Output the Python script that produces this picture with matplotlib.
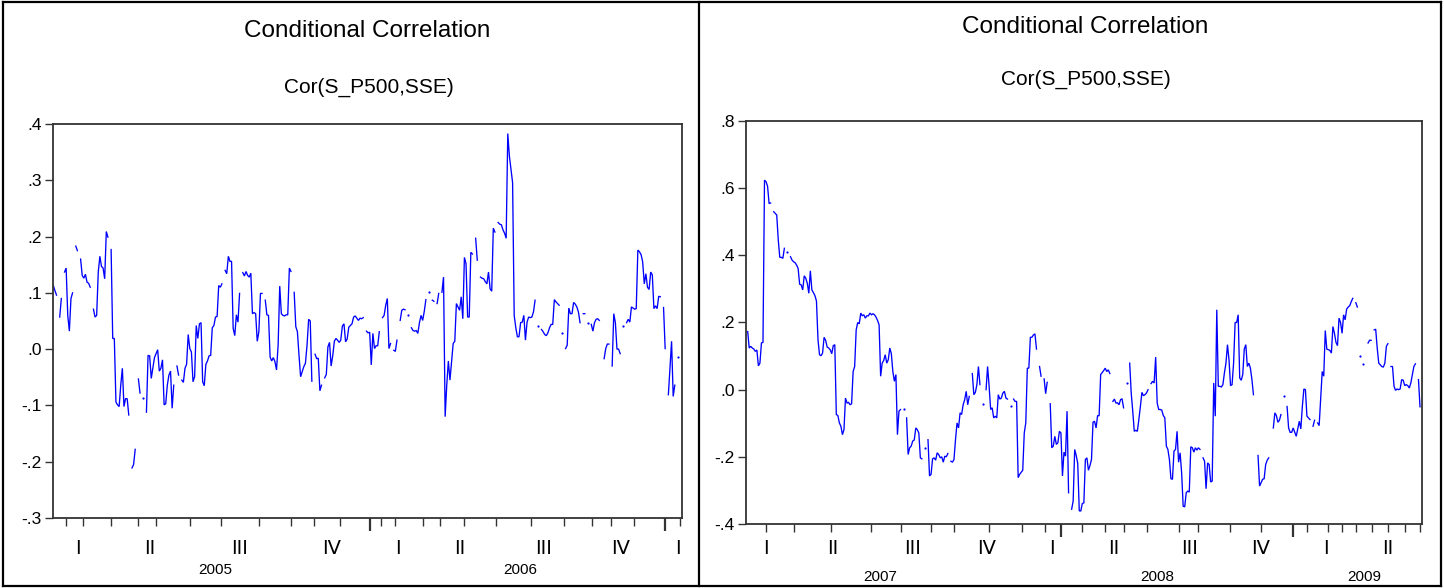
import numpy as np
import matplotlib
matplotlib.use("Agg")
import matplotlib.pyplot as plt
from matplotlib.lines import Line2D

plt.rcParams['font.family'] = ['Liberation Sans', 'DejaVu Sans']

nan = np.nan

# conditional correlation Cor(S_P500,SSE), 2005-2006 (gaps = missing obs)
left_vals = [
    .113, .104, .096, nan, .057, .09, nan, .137, .144, .06, .032, .09, .10, nan,
    .183, .175, nan, .16, .131, .126, .133, .119, .117, .11, nan,
    .071, .057, .06, .137, .165, .147, .144, .125, .209, .199, nan,
    .177, .019, .019, -.094, -.099, -.102, -.064, -.034, -.102, -.088, -.088, -.117, nan,
    -.211, -.205, -.178, nan, -.053, -.078, nan, -.086, nan,
    -.112, -.011, -.012, -.052, -.034, -.015, -.008, -.001, -.039, -.034, -.019, -.099,
    -.097, -.064, -.046, -.039, -.105, -.064, nan,
    -.03, -.046, nan,
    -.055, -.059, -.034, -.027, .026, .001, -.005, -.058, -.049, .042, .019, .045, .047,
    -.058, -.065, -.027, -.021, -.012, -.011, .038, .042, .057, .058, .113,
    .11, .116, nan, .14, .134, .165, .156, .156, .037, .024, .061, .048, .099, nan,
    .136, .13, .138, .131, .128, .135, .063, .065, .063, .014, .031, .099, .099, nan,
    .087, .061, .06, -.014, -.021, -.015, -.022, -.037, .007, .112, .063, .06, .059, .061,
    .061, .144, .138, nan,
    .101, .04, .031, -.011, -.049, -.04, -.031, -.025, .007, .053, .05, -.057, nan,
    -.009, -.017, -.016, -.074, -.064, nan,
    -.051, -.045, .004, .012, -.03, -.012, .014, .019, .016, .012, .016, .041, .045, .013,
    .018, .039, .042, .045, .057, .059, .055, .051, .055, .054, .056, nan,
    .032, .029, .030, -.028,
    .028, .001, .006, .006, .031, nan,
    .056, .06, .078, .09, .001, .01, nan,
    -.002, -.004, .016, nan,
    .051, .069, .071, .07, nan, .06, nan,
    .038, .033, .032, .033, .028, .047, .06, .051, .067, .088, nan, .101, nan, .087, .085,
    nan, .081, .099, nan,
    .101, .128, -.12, -.064, -.021, -.055, -.022, .01, .014, .081, .075, .069, .093, .054,
    .163, .152, .057, .057, .172, .169, nan,
    .197, .158, nan,
    .128, .126, .125, .12, .116, .137, .107, .103, .215, .208, nan,
    .225, .222, .221, .212, .206, .197, .383, .343, .32, .296, .06, .038, .022, .022, .047,
    .048, .06, .016, .048, .057,
    .056, .057, .066, .087, nan, .042, nan,
    .035, .031, .026, .024, .029, .038, .044, .044, .088, .084, .081, .078, nan, .028, nan,
    .001, .007, .073, .063, .063, .083, .08, .075, .066, .047, nan, .063, .063, nan, .047, nan,
    .044, .032, .047, .053, .054, .051, nan, nan,
    -.017, .001, .009, .009, nan,
    -.03, .063, .047, 0, 0, -.008, nan, .041, nan,
    .047, .053, .048, .075, .073, .071, .072, .176, .173, .168, .155, .116, .134, .11, .106,
    .137, .132, .072, .077, .072, .094, .093, nan,
    .074, .001, nan,
    -.081, -.034, .014, -.084, -.064, nan, -.014,
]

# 2007 - mid 2009
right_vals = [
    .173, .124, .129, .124, .121, .114, .118, .071, .079, .139, .141, .624, .619, .606, .554,
    .556, nan,
    .53, .525, .52, .446, .394, .394, .391, .421, nan, .411, nan,
    .396, .386, .381, .378, .371, .361, .314, .312, .297, .339, .332, .317, .287, .354, .297,
    .289, .28, .264, .149, .104, .101, .109, .156, .147, .127, .124, .119, .107, .131, .134,
    -.074, -.077, -.099, -.109, -.134, -.119, -.025, -.04, -.038, -.045, -.042, .054, .069,
    .178, .2, .196, .228, .22, .223, .213, .22, .22, .228, .223, .226, .223, .216, .206, .193,
    .04, .079, .087, .104, .079, .089, .124, .107, .054, .025, .045, -.134, -.064, -.059, nan,
    -.057, nan,
    -.084, -.193, -.173, -.168, -.153, -.15, -.114, -.119, -.129, -.203, -.206, nan, -.173, nan,
    -.149, -.257, -.252, -.206, -.203, -.21, -.188, -.193, -.203, -.2, -.216, -.198, -.2, -.19,
    nan,
    -.213, -.216, -.208, -.149, -.099, -.114, -.069, -.074, -.045, -.03, -.005, -.045, -.02, nan,
    .048, -.015, -.008, .015, .069, .015, nan, -.042, nan,
    0, .069, .01, -.059, -.054, -.084, -.079, -.084, -.015, -.028, -.025, -.01, -.005, -.025,
    -.028, nan, -.048, nan,
    -.028, -.035, -.035, -.262, -.252, -.246, -.24, -.129, -.099, .064, .064, .156, .156, .163,
    .166, .121, nan,
    .069, .04, nan, .032, -.012, .022, nan,
    -.042, -.173, -.168, -.139, -.163, -.158, -.124, -.129, -.257, -.186, -.198, -.064, -.307,
    nan,
    -.356, -.332, -.178, -.196, -.22, -.361, -.361, -.339, -.337, -.208, -.203, -.24, -.226,
    -.208, -.097, -.094, -.114, -.077, -.078, .045, .051, .057, .064, .054, .059, .048, nan,
    -.035, -.028, -.04, -.039, -.045, -.03, -.027, -.054, nan, .02, nan,
    .079, -.01, -.064, -.124, -.121, -.124, -.089, -.05, -.008, -.018, -.015, -.01, 0, nan,
    .018, .025, .02, .097, -.04, -.059, -.059, -.061, -.077, -.084, -.168, -.178, -.208, -.265,
    -.267, -.183, -.178, -.124, -.216, -.188, -.248, -.347, -.349, -.307, -.302, -.305, -.17,
    -.173, -.186, -.173, -.18, -.173, -.178, nan,
    -.203, -.213, -.295, -.218, -.223, -.275, -.272, .02, -.079, .238, .01, .01, .008, .015,
    .05, .079, .134, .089, .012, .015, .079, .2, .2, .223, .035, .028, .045, .121, .134, .069,
    .079, .064, .03, -.015, nan, nan,
    -.196, -.287, -.277, -.267, -.265, -.223, -.21, -.203, nan, nan,
    -.114, -.069, -.077, -.097, -.091, -.074, nan, -.02, nan,
    -.05, -.114, -.127, -.127, -.114, -.127, -.139, -.117, -.094, -.117, -.05, .002, 0, -.079,
    -.084, -.089, nan,
    -.109, -.091, nan,
    -.099, -.107, -.025, .054, .04, .176, .121, .119, .117, .109, .188, .168, .141, .131, .213,
    .2, .168, .223, .208, .24, .246, .25, .262, .272, nan,
    .259, .246, nan, .101, nan, .077, nan, nan,
    .139, .147, .147, nan,
    .178, .18, .124, .079, .074, .069, .067, .079, .129, .137, nan,
    .069, .069, .01, -.002, .002, 0, .002, .03, .028, .012, .015, .012, .005, .02, .045, .069,
    .077, nan, .03, -.051,
]

left_quarters = ['I', 'II', 'III', 'IV', 'I', 'II', 'III', 'IV', 'I']
left_years = ['2005', '2006']
right_quarters = ['I', 'II', 'III', 'IV', 'I', 'II', 'III', 'IV', 'I', 'II']
right_years = ['2007', '2008', '2009']

W, H = 1444, 588
fig = plt.figure(figsize=(W / 100, H / 100), dpi=100)


def fx(px):
    return px / W


def fy(py):
    return 1 - py / H


def panel(rect, vals, xr, yr, yticks, month_ticks, year_ticks, q_pos, q_labels,
          y_pos, y_labels, year_y):
    x0, y0, x1, y1 = rect
    ax = fig.add_axes([fx(x0), fy(y1), (x1 - x0) / W, (y1 - y0) / H])
    v = np.array(vals, dtype=float)
    x = np.linspace(xr[0], xr[1], len(v))
    ax.plot(x, v, color='#0000ff', lw=0.95, solid_joinstyle='miter')
    # single observations between gaps are drawn as dots
    iso = []
    for i in range(len(v)):
        if np.isnan(v[i]):
            continue
        lft = i == 0 or np.isnan(v[i - 1])
        rgt = i == len(v) - 1 or np.isnan(v[i + 1])
        if lft and rgt:
            iso.append(i)
    ax.plot(x[iso], v[iso], 'o', color='#0000ff', ms=1.6, mew=0)
    ax.set_xlim(x0, x1)
    ax.set_ylim(yr)
    ax.set_yticks(yticks)
    ax.set_yticklabels([f"{t:.1f}".replace('0.', '.') for t in yticks])
    ax.set_xticks(month_ticks)
    ax.set_xticks(year_ticks, minor=True)
    ax.set_xticklabels([])
    ax.tick_params(axis='x', which='major', direction='out', length=6, width=1.0,
                   color='#333333')
    ax.tick_params(axis='x', which='minor', direction='out', length=9, width=1.6,
                   color='#333333')
    ax.tick_params(axis='y', direction='out', length=6, width=1.0, color='#333333',
                   labelsize=12.5, pad=2)
    for s in ax.spines.values():
        s.set_linewidth(1.3)
        s.set_color('#333333')
    for p, lab in zip(q_pos, q_labels):
        fig.text(fx(p), fy(548), lab, ha='center', va='center', fontsize=14,
                 fontfamily='Liberation Sans Narrow')
    for p, lab in zip(y_pos, y_labels):
        fig.text(fx(p), fy(year_y), lab, ha='center', va='center', fontsize=11)
    return ax


# left panel
panel((53, 124, 682, 518), left_vals, (53.3, 678), (-0.3, 0.4),
      [-0.3, -0.2, -0.1, 0.0, 0.1, 0.2, 0.3, 0.4],
      [65.8, 82.5, 110.8, 137.9, 155.8, 190, 221, 258.8, 290.8, 314, 340, 380.8, 395, 423,
       440, 463.8, 496, 530.8, 564, 592, 611, 634, 680],
      [370, 665],
      [78, 150, 240, 332, 397.5, 460, 544, 621, 677.5], left_quarters,
      [215, 520], left_years, 570)
fig.text(fx(367), fy(31), 'Conditional Correlation', ha='center', va='center', fontsize=17.5)
fig.text(fx(369), fy(87), 'Cor(S_P500,SSE)', ha='center', va='center', fontsize=15)

# right panel
panel((746, 121, 1422, 524), right_vals, (747.7, 1420), (-0.4, 0.8),
      [-0.4, -0.2, 0.0, 0.2, 0.4, 0.6, 0.8],
      [766.4, 794.2, 831.4, 870.8, 901, 931, 954.3, 989, 1021.6, 1044.8, 1082, 1105,
       1123.7, 1147, 1179, 1198, 1230, 1260.6, 1307, 1328, 1342, 1356, 1372, 1388, 1404.5,
       1420],
      [1061, 1293],
      [766, 833, 912.6, 987, 1052, 1114, 1190, 1260.6, 1325.6, 1388], right_quarters,
      [880, 1157, 1364], right_years, 577)
fig.text(fx(1085), fy(27), 'Conditional Correlation', ha='center', va='center', fontsize=17.5)
fig.text(fx(1086), fy(79), 'Cor(S_P500,SSE)', ha='center', va='center', fontsize=15)

# panel frames
for seg in [((3, 1441), (2, 2)), ((3, 1441), (586, 586)), ((3, 3), (2, 586)),
            ((1441, 1441), (2, 586)), ((699, 699), (2, 586))]:
    fig.add_artist(Line2D([fx(seg[0][0]), fx(seg[0][1])], [fy(seg[1][0]), fy(seg[1][1])],
                          color='black', lw=1.6))

fig.savefig('out.png', dpi=100)
